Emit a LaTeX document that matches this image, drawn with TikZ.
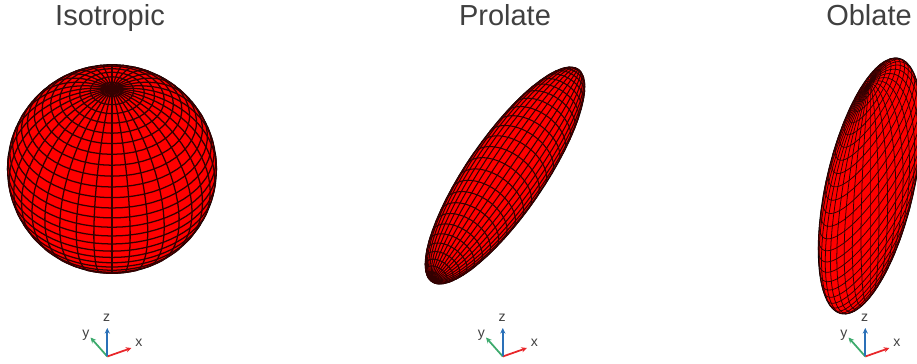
\documentclass[tikz,border=0pt]{standalone}
\usepackage{fontspec}
\setmainfont{Liberation Sans}
\usetikzlibrary{arrows.meta}
\definecolor{textgray}{HTML}{404040}
\definecolor{axisred}{HTML}{E8262A}
\definecolor{axisgreen}{HTML}{3DAA6D}
\definecolor{axisblue}{HTML}{2A70B8}
\tikzset{
    title/.style={text=textgray, font=\fontsize{8.25}{10}\selectfont, anchor=base},
    axislabel/.style={text=textgray, font=\fontsize{4}{5}\selectfont, inner sep=0pt},
    axisarrow/.style={line width=.5pt, -{Stealth[length=1.6pt,width=1.5pt]}},
    meshline/.style={draw=black!80!red, line width=.36pt},
    outline/.style={draw=black, fill=red, line width=.3pt}
}
% center, then the screen images of the three body axes
\newcommand{\ellipsoid}[8]{
    \begin{scope}[shift={(#1,#2)}]
        \pgfmathsetmacro{\wx}{#5*#8-#7*#6}
        \pgfmathsetmacro{\wy}{#7*#4-#3*#8}
        \pgfmathsetmacro{\wz}{#3*#6-#5*#4}
        \pgfmathsetmacro{\wh}{sqrt(\wx*\wx+\wy*\wy)}
        \pgfmathsetmacro{\wang}{atan2(\wy,\wx)}
        \pgfmathsetmacro{\la}{sqrt(#3*#3+#5*#5+#7*#7)}
        \pgfmathsetmacro{\lb}{(#3*#4+#5*#6+#7*#8)/\la}
        \pgfmathsetmacro{\ld}{sqrt(#4*#4+#6*#6+#8*#8-\lb*\lb)}
        % Body
        \draw[outline, cm={\la,\lb,0,\ld,(0,0)}] (0,0) circle (1);
        % Meridians
        \foreach \lon in {0,10,...,350} {
            \pgfmathsetmacro{\mang}{atan2(\wz,\wx*cos(\lon)+\wy*sin(\lon))}
            \pgfmathsetmacro{\lo}{max(-90,\mang-90)}
            \pgfmathsetmacro{\hi}{min(90,\mang+90)}
            \draw[meshline] plot[domain=\lo:\hi, samples=25, variable=\lat]
                ({(#3*cos(\lon)+#5*sin(\lon))*cos(\lat)+#7*sin(\lat)},
                 {(#4*cos(\lon)+#6*sin(\lon))*cos(\lat)+#8*sin(\lat)});
        }
        % Parallels
        \foreach \lat in {-84,-78,...,84} {
            \pgfmathsetmacro{\half}{acos(max(-1,min(1,-sin(\lat)*\wz/(cos(\lat)*\wh))))}
            \ifdim\half pt>0.01pt
                \pgfmathsetmacro{\lo}{\wang-\half}
                \pgfmathsetmacro{\hi}{\wang+\half}
                \draw[meshline] plot[domain=\lo:\hi, samples=37, variable=\lon]
                    ({(#3*cos(\lon)+#5*sin(\lon))*cos(\lat)+#7*sin(\lat)},
                     {(#4*cos(\lon)+#6*sin(\lon))*cos(\lat)+#8*sin(\lat)});
            \fi
        }
    \end{scope}
}
\begin{document}
\begin{tikzpicture}
    \useasboundingbox (0, 0) rectangle (9.17, 3.64);
    \clip (0, 0) rectangle (9.17, 3.64);
    % Titles
    \node[title] (isotropic) at (1.10, 3.38) {Isotropic};
    \node[title] (prolate) at (5.05, 3.38) {Prolate};
    \node[title] (oblate) at (8.69, 3.38) {Oblate};
    % Bodies
    \ellipsoid{1.12}{1.95}{1.045}{0}{0}{.67}{0}{.80}
    \begin{scope}[meshline/.append style={line width=.3pt}]
        \ellipsoid{5.05}{1.885}{.317}{-.218}{.131}{.19}{-.72}{-1.045}
    \end{scope}
    \begin{scope}[meshline/.append style={line width=.22pt}]
        \ellipsoid{8.70}{1.78}{.5166}{.6345}{0}{.418}{0}{1.03}
    \end{scope}
    % Axes
    \foreach \name/\dx in {a/0, b/3.955, c/7.58} {
        \coordinate (o\name) at (1.073+\dx, .075);
        \coordinate (x\name) at (1.315+\dx, .16);
        \coordinate (y\name) at (.905+\dx, .265);
        \coordinate (z\name) at (1.073+\dx, .36);
        \draw[axisarrow, axisred] (o\name) -- (x\name);
        \draw[axisarrow, axisgreen] (o\name) -- (y\name);
        \draw[axisarrow, axisblue] (o\name) -- (z\name);
        \node[axislabel] (xl\name) at (1.39+\dx, .21) {x};
        \node[axislabel] (yl\name) at (.86+\dx, .29) {y};
        \node[axislabel] (zl\name) at (1.067+\dx, .46) {z};
    }
\end{tikzpicture}
\end{document}
